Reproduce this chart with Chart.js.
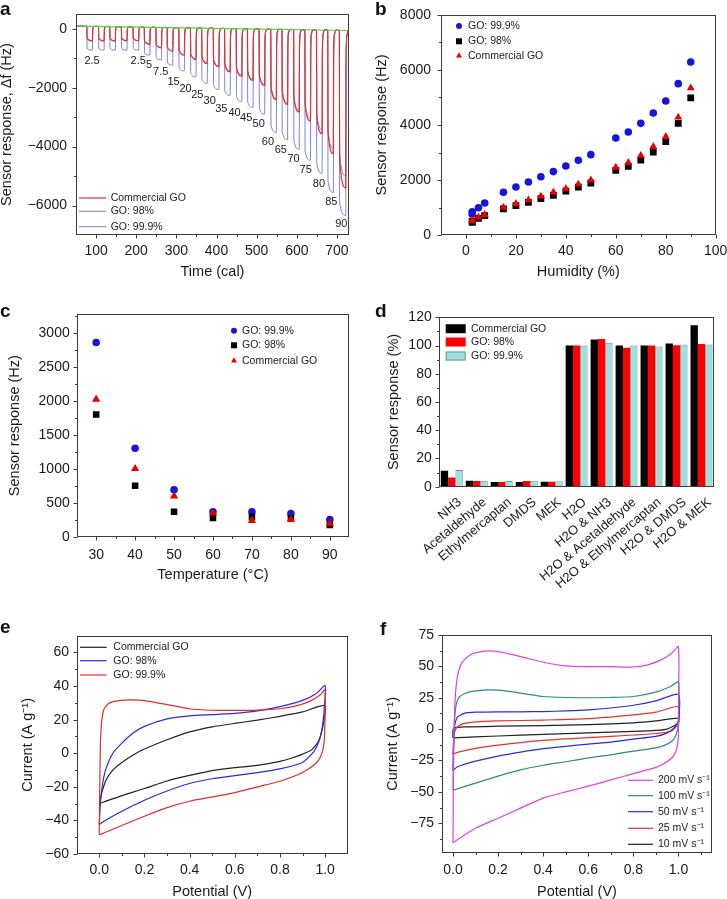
<!DOCTYPE html>
<html>
<head>
<meta charset="utf-8">
<script src="https://cdn.jsdelivr.net/npm/chart.js@4.4.1/dist/chart.umd.min.js"></script>
<style>
body { margin: 0; background: #fff; }
#wrap { position: relative; width: 727px; height: 899px; overflow: hidden; font-family: "Liberation Sans", Arial, sans-serif; }
canvas { position: absolute; }
.tag { position: absolute; font-weight: bold; font-size: 19px; line-height: 1; color: #111; }
</style>
</head>
<body>
<div id="wrap">
  <canvas id="ca" width="360" height="300" style="left:0;top:0"></canvas>
  <canvas id="cb" width="367" height="300" style="left:360px;top:0"></canvas>
  <canvas id="cc" width="360" height="300" style="left:0;top:300px"></canvas>
  <canvas id="cd" width="367" height="310" style="left:360px;top:300px"></canvas>
  <canvas id="ce" width="360" height="289" style="left:0;top:610px"></canvas>
  <canvas id="cf" width="367" height="289" style="left:360px;top:610px"></canvas>
  <div class="tag" style="left:0;top:-1px">a</div>
  <div class="tag" style="left:375px;top:-1px">b</div>
  <div class="tag" style="left:0;top:301px">c</div>
  <div class="tag" style="left:375px;top:301px">d</div>
  <div class="tag" style="left:0;top:617px">e</div>
  <div class="tag" style="left:380px;top:619px">f</div>
</div>
<script>
// ---- panel a: humidity pulses ----
const pulseOn  = [77, 106, 134, 163, 192, 220, 249, 277, 306, 335, 363, 392, 420, 449, 477, 506, 535, 563, 592, 620, 649, 677, 706];
const pulseOff = [91, 120, 148, 177, 206, 234, 263, 291, 320, 349, 377, 406, 434, 463, 491, 520, 549, 577, 606, 634, 663, 691, 722];
const pulseTop = [84, 78, 71, 65, 59, 52, 46, 40, 34, 27, 21, 15, 8, 2, -4, -11, -17, -23, -30, -36, -42, -48, -55];
const depthComm  = [-420, -420, -420, -415, -415, -530, -650, -770, -900, -1045, -1180, -1290, -1460, -1610, -1750, -1920, -2405, -2565, -2825, -3130, -3560, -4240, -5400];
const depthGO98  = [-400, -400, -400, -400, -400, -510, -625, -745, -870, -1010, -1140, -1250, -1420, -1560, -1700, -1870, -2350, -2500, -2750, -3030, -3420, -4060, -5000];
const depthGO999 = [-725, -725, -725, -725, -725, -895, -1055, -1240, -1430, -1635, -1850, -2065, -2260, -2465, -2670, -2900, -3520, -3770, -4090, -4465, -4910, -5560, -6340];
const baselineA = [{x: 50, y: 90}, {x: 730, y: -60}];
const aLabelText = ['2.5', '2.5', '5', '7.5', '15', '20', '25', '30', '35', '40', '45', '50', '60', '65', '70', '75', '80', '85', '90'];
const aLabelT = [90, 205, 232, 261, 293, 323, 352, 383, 412, 445, 474, 505, 528, 560, 592, 622, 655, 686, 711];
const aLabelV = [-1078, -1078, -1238, -1476, -1792, -2041, -2245, -2463, -2711, -2857, -3027, -3231, -3844, -4116, -4422, -4796, -5272, -5864, -6622];
const aTicksX = [100, 200, 300, 400, 500, 600, 700];
const aTicksY = [-6000, -4000, -2000, 0];

// ---- panel b: response vs humidity ----
const bHum    = [2.5, 2.5, 5, 7.5, 15, 20, 25, 30, 35, 40, 45, 50, 60, 65, 70, 75, 80, 85, 90];
const bGO999  = [850, 760, 1000, 1170, 1560, 1750, 1935, 2125, 2310, 2515, 2720, 2925, 3530, 3745, 4060, 4435, 4870, 5500, 6285];
const bGO98   = [500, 470, 615, 715, 955, 1075, 1195, 1330, 1450, 1605, 1750, 1895, 2355, 2500, 2730, 3020, 3395, 4060, 4980];
const bComm   = [560, 520, 655, 750, 1015, 1150, 1280, 1415, 1560, 1690, 1850, 2005, 2465, 2635, 2890, 3215, 3575, 4280, 5340];
const bTicksX = [0, 20, 40, 60, 80, 100];
const bTicksY = [0, 2000, 4000, 6000, 8000];

// ---- panel c: response vs temperature ----
const cTemp   = [30, 40, 50, 60, 70, 80, 90];
const cGO999  = [2862, 1308, 698, 374, 374, 349, 261];
const cGO98   = [1804, 757, 374, 285, 300, 280, 182];
const cComm   = [2026, 1008, 605, 354, 246, 261, 202];
const cTicksX = [30, 40, 50, 60, 70, 80, 90];
const cTicksY = [0, 500, 1000, 1500, 2000, 2500, 3000];

// ---- panel d: selectivity ----
const dCats  = ['NH3', 'Acetaldehyde', 'Ethylmercaptan', 'DMDS', 'MEK', 'H2O', 'H2O & NH3', 'H2O & Acetaldehyde', 'H2O & Ethylmercaptan', 'H2O & DMDS', 'H2O & MEK'];
const dComm  = [11.3, 4.2, 3.3, 3.3, 3.5, 100, 104.2, 100, 100, 101.5, 114.3];
const dGO98  = [6.6, 4.0, 3.3, 4.0, 3.5, 100, 104.6, 98.5, 100, 100.2, 101.1];
const dGO999 = [11.8, 4.2, 4.0, 4.2, 3.8, 100, 102, 100, 99.3, 100.7, 100.7];
const dTicksY = [0, 20, 40, 60, 80, 100, 120];

// ---- panel e: CV of the three GO samples, [potential, current] ----
const eComm = [[0,-30],[0.01,-24],[0.03,-16],[0.06,-10],[0.1,-5.5],[0.15,-1],[0.2,2.5],[0.3,8],[0.4,12.7],[0.5,15.7],[0.6,17.8],[0.7,19.7],[0.8,22],[0.9,24.6],[1.0,28.4],[0.99,16],[0.97,7],[0.94,2],[0.9,-0.5],[0.85,-3],[0.8,-4.8],[0.7,-7.2],[0.6,-8.6],[0.5,-10.3],[0.4,-13.2],[0.3,-16.5],[0.2,-21],[0.1,-25.2],[0.02,-29],[0,-30]];
const eGO98 = [[0,-42.5],[0.005,-30],[0.015,-18],[0.03,-9],[0.06,0],[0.1,6],[0.15,12],[0.2,16],[0.3,20.5],[0.4,22.3],[0.5,23],[0.6,23.7],[0.7,25.2],[0.8,27.8],[0.9,31.5],[0.96,35.5],[1.0,40.3],[0.998,30],[0.99,18],[0.975,8],[0.95,1],[0.9,-5.5],[0.8,-9.3],[0.7,-11.5],[0.6,-13.3],[0.5,-15.2],[0.4,-18],[0.3,-22.5],[0.2,-28],[0.1,-34.5],[0.02,-40.5],[0,-42.5]];
const eGO999 = [[0,-46],[0.002,-20],[0.005,5],[0.01,18],[0.02,26],[0.04,29.5],[0.08,31.2],[0.14,31.8],[0.2,31.3],[0.3,29],[0.4,26.5],[0.5,25.6],[0.6,25.5],[0.7,25.7],[0.8,26.5],[0.88,28.5],[0.94,31.5],[0.98,35],[1.0,38],[1.0,25],[0.998,12],[0.993,4],[0.98,-2],[0.96,-6],[0.9,-11.5],[0.8,-16.7],[0.7,-20],[0.6,-23.4],[0.5,-26],[0.4,-28.6],[0.3,-32.4],[0.2,-37.5],[0.1,-43],[0.02,-47.5],[0,-48.5],[0,-46]];
const eTicksX = [0, 0.2, 0.4, 0.6, 0.8, 1.0];
const eTicksY = [-60, -40, -20, 0, 20, 40, 60];

// ---- panel f: CV at several scan rates ----
const f200 = [[0,-90.5],[0.002,-40],[0.005,0],[0.01,25],[0.02,42],[0.04,53],[0.08,59.5],[0.15,62.3],[0.2,61.8],[0.3,57.8],[0.4,53.3],[0.5,50.4],[0.6,49.8],[0.7,49.8],[0.8,49.5],[0.86,51],[0.92,55],[0.97,60.5],[1.0,65.8],[1.0,20],[0.999,-8],[0.99,-17],[0.97,-23],[0.93,-28],[0.9,-30.5],[0.8,-35.5],[0.7,-40.5],[0.6,-45.5],[0.5,-50],[0.4,-55],[0.3,-63],[0.2,-71],[0.1,-79],[0.04,-85.7],[0,-90.5]];
const f100 = [[0,-48.8],[0.003,-10],[0.008,10],[0.015,20],[0.03,26],[0.07,29.5],[0.15,31.2],[0.2,31],[0.3,28.7],[0.4,26],[0.5,25.2],[0.6,25],[0.7,25.2],[0.8,26],[0.9,29.5],[0.96,33.5],[1.0,37.5],[1.0,8],[0.995,-1],[0.98,-8],[0.95,-12],[0.9,-15],[0.8,-17.5],[0.7,-20.5],[0.6,-23],[0.5,-26],[0.4,-28.8],[0.3,-32.5],[0.2,-37.5],[0.1,-43],[0,-48.8]];
const f50 = [[0,-33],[0.003,-10],[0.008,3],[0.02,9.5],[0.05,12.5],[0.1,13.5],[0.2,13.8],[0.3,13.8],[0.4,14],[0.5,14.5],[0.6,15.3],[0.7,16.8],[0.8,19],[0.9,22.5],[1.0,27.7],[1.0,7],[0.98,1],[0.95,-3],[0.9,-5.8],[0.8,-8],[0.7,-10.3],[0.6,-12],[0.5,-13.7],[0.4,-15.6],[0.3,-18.3],[0.2,-21.5],[0.1,-25.5],[0.02,-30],[0,-33]];
const f25 = [[0,-20],[0.005,-5],[0.015,1],[0.04,4],[0.1,5.7],[0.2,6.5],[0.4,7.2],[0.6,8.3],[0.8,11.3],[0.9,13.5],[1.0,17.9],[1.0,5],[0.97,-1.5],[0.9,-3.5],[0.8,-4.7],[0.6,-6.8],[0.4,-9],[0.2,-12.7],[0.1,-15.3],[0.02,-18.5],[0,-20]];
const f10 = [[0,-7],[0,-1],[0.005,1],[0.05,1.8],[0.2,2.3],[0.4,2.8],[0.6,3.6],[0.8,5],[0.9,6.5],[1.0,8.7],[1.0,5],[0.95,0],[0.9,-1],[0.8,-1.8],[0.6,-3],[0.4,-4.2],[0.2,-5.5],[0,-7]];
const fTicksX = [0, 0.2, 0.4, 0.6, 0.8, 1.0];
const fTicksY = [-75, -50, -25, 0, 25, 50, 75];

const FONT = '"Liberation Sans", Arial, Helvetica, sans-serif';
Chart.defaults.font.family = FONT;
Chart.defaults.color = '#1a1a1a';
Chart.defaults.animation = false;
Chart.defaults.events = [];
Chart.defaults.plugins.legend.display = false;
Chart.defaults.plugins.tooltip.enabled = false;

const minus = v => String(v).replace('-', '\u2212');
const oneDec = v => v.toFixed(1);

// fixed-size axis so that the plot box lands where the reference has it
function axis(o) {
  return {
    type: o.type || 'linear',
    min: o.min, max: o.max,
    grid: { display: false, drawTicks: false },
    border: { display: false },
    afterBuildTicks: o.ticks ? s => { s.ticks = o.ticks.map(v => ({ value: v })); } : undefined,
    afterFit: s => {
      if (o.h) s.height = o.size; else s.width = o.size;
      s.paddingLeft = s.paddingRight = s.paddingTop = s.paddingBottom = 0;
    },
    ticks: {
      padding: o.pad, font: { size: o.fs || 14 }, autoSkip: false,
      maxRotation: o.rot || 0, minRotation: o.rot || 0, labelOffset: o.lo || 0,
      callback: o.type === 'category' ? function (v) { return this.getLabelForValue(v); } : (o.fmt || minus)
    },
    title: { display: !!o.title, text: o.title, font: { size: 14.5, lineHeight: 1 }, padding: { top: o.tp || 0, bottom: o.tp || 0 }, color: '#1a1a1a' }
  };
}

// box around the plot, outward major and minor ticks
const frameTicks = {
  id: 'frameTicks',
  afterDraw(chart) {
    const { ctx, chartArea: a, scales } = chart;
    const L = Math.round(a.left) + 0.5, R = Math.round(a.right) - 0.5;
    const T = Math.round(a.top) + 0.5, B = Math.round(a.bottom) - 0.5;
    ctx.save();
    ctx.strokeStyle = '#3c3c3c';
    ctx.lineWidth = 1;
    ctx.strokeRect(L, T, R - L, B - T);
    ctx.beginPath();
    const draw = (sc, vals, len) => vals.forEach(v => {
      const p = Math.round(sc.getPixelForValue(v)) + 0.5;
      if (sc.isHorizontal()) { ctx.moveTo(p, B); ctx.lineTo(p, B + len); }
      else { ctx.moveTo(L, p); ctx.lineTo(L - len, p); }
    });
    ['x', 'y'].forEach(id => {
      const sc = scales[id];
      if (!sc || sc.type !== 'linear') return;
      const major = sc.ticks.map(t => t.value).sort((p, q) => p - q);
      draw(sc, major, 4);
      const step = major[1] - major[0];
      const minor = [];
      for (let v = major[0] - step / 2; v < sc.max - 1e-9; v += step) if (v > sc.min + 1e-9) minor.push(v);
      draw(sc, minor, 2.5);
    });
    ctx.stroke();
    ctx.restore();
  }
};

function marker(ctx, style, x, y, r, color) {
  ctx.fillStyle = color;
  ctx.beginPath();
  if (style === 'rect') ctx.rect(x - r, y - r, 2 * r, 2 * r);
  else if (style === 'triangle') { ctx.moveTo(x, y - r * 1.15); ctx.lineTo(x + r, y + r * 0.6); ctx.lineTo(x - r, y + r * 0.6); ctx.closePath(); }
  else ctx.arc(x, y, r, 0, Math.PI * 2);
  ctx.fill();
}

// legend drawn inside the plot
const insetLegend = {
  id: 'insetLegend',
  afterDraw(chart, args, o) {
    if (!o || !o.rows) return;
    const ctx = chart.ctx;
    ctx.save();
    ctx.font = '10.5px ' + FONT;
    ctx.textBaseline = 'middle';
    o.rows.forEach((di, i) => {
      const ds = chart.data.datasets[di];
      const y = o.ys[i];
      if (o.kind === 'line') {
        ctx.strokeStyle = ds.borderColor; ctx.lineWidth = ds.borderWidth;
        ctx.beginPath(); ctx.moveTo(o.x0, y); ctx.lineTo(o.x1, y); ctx.stroke();
      } else if (o.kind === 'box') {
        ctx.fillStyle = ds.backgroundColor;
        ctx.fillRect(o.x0, y - o.h / 2, o.x1 - o.x0, o.h);
        if (ds.borderWidth) {
          ctx.strokeStyle = ds.borderColor; ctx.lineWidth = 1;
          ctx.strokeRect(o.x0 + 0.5, y - o.h / 2 + 0.5, o.x1 - o.x0 - 1, o.h - 1);
        }
      } else {
        marker(ctx, ds.pointStyle, o.x0, y, o.r, ds.backgroundColor);
      }
      ctx.fillStyle = '#1a1a1a';
      ctx.fillText(ds.label, o.tx, y);
    });
    ctx.restore();
  }
};

// humidity numbers under the pulses in panel a
const pulseLabels = {
  id: 'pulseLabels',
  afterDatasetsDraw(chart) {
    const { ctx, scales: { x, y } } = chart;
    ctx.save();
    ctx.font = '11px ' + FONT;
    ctx.textAlign = 'center';
    ctx.textBaseline = 'middle';
    ctx.fillStyle = '#1a1a1a';
    aLabelText.forEach((t, i) => ctx.fillText(t, x.getPixelForValue(aLabelT[i]), y.getPixelForValue(aLabelV[i])));
    ctx.restore();
  }
};

function pulseTrain(depth, fast) {
  const pts = [{ x: 50, y: baselineA[0].y }];
  for (let i = 0; i < pulseOn.length; i++) {
    const top = pulseTop[i], d = depth[i], on = pulseOn[i], off = pulseOff[i];
    pts.push({ x: on, y: top });
    pts.push({ x: on + 0.7, y: top + fast * (d - top) });
    pts.push({ x: off, y: d });
    pts.push({ x: off + 0.7, y: top + 0.2 * (d - top) });
    pts.push({ x: off + 3, y: top + 0.03 * (d - top) });
    pts.push({ x: off + 6, y: top });
  }
  return pts;
}

const xy = arr => arr.map(p => ({ x: p[0], y: p[1] }));
const zip = (xs, ys) => xs.map((v, i) => ({ x: v, y: ys[i] }));

function lineSet(label, data, color, order, width) {
  return { label, data, borderColor: color, backgroundColor: color, borderWidth: width || 1.2, pointRadius: 0, showLine: true, tension: 0.2, order };
}

// a
new Chart(document.getElementById('ca'), {
  type: 'scatter',
  data: { datasets: [
    Object.assign(lineSet('Commercial GO', pulseTrain(depthComm, 0.82), '#e8302e', 1, 1.2), { cubicInterpolationMode: 'monotone' }),
    Object.assign(lineSet('GO: 98%', pulseTrain(depthGO98, 0.84), '#8a8a8a', 2, 1), { cubicInterpolationMode: 'monotone' }),
    Object.assign(lineSet('GO: 99.9%', pulseTrain(depthGO999, 0.93), '#7c7ce6', 3, 1), { cubicInterpolationMode: 'monotone' }),
    lineSet('baseline', baselineA, '#4cd24c', 0, 1.2)
  ] },
  options: {
    responsive: false,
    layout: { padding: { top: 14, right: 11, left: 0, bottom: 0 } },
    scales: {
      x: axis({ min: 50, max: 730, ticks: aTicksX, h: true, size: 65, pad: 7.3, title: 'Time (cal)', tp: 21 }),
      y: axis({ min: -7000, max: 500, ticks: aTicksY, size: 76, pad: 9, title: 'Sensor response, \u0394f (Hz)', tp: 0 })
    },
    plugins: { insetLegend: { kind: 'line', rows: [0, 1, 2], ys: [198, 211.3, 226.7], x0: 79, x1: 106, tx: 110.7 } }
  },
  plugins: [frameTicks, insetLegend, pulseLabels]
});

function pointSet(label, data, color, style, r, order) {
  return { label, data, backgroundColor: color, borderColor: color, borderWidth: 0, pointStyle: style, pointRadius: r, order };
}

// b
new Chart(document.getElementById('cb'), {
  type: 'scatter',
  data: { datasets: [
    pointSet('GO: 99.9%', zip(bHum, bGO999), '#1515e0', 'circle', 3.8, 2),
    pointSet('GO: 98%', zip(bHum, bGO98), '#000000', 'rect', 4.8, 1),
    pointSet('Commercial GO', zip(bHum, bComm), '#e80000', 'triangle', 4.6, 0)
  ] },
  options: {
    responsive: false,
    layout: { padding: { top: 14.7, right: 11.3, left: 0, bottom: 0 } },
    scales: {
      x: axis({ min: -10, max: 100, ticks: bTicksX, h: true, size: 64.7, pad: 7.3, title: 'Humidity (%)', tp: 21 }),
      y: axis({ min: 0, max: 8000, ticks: bTicksY, size: 81, pad: 10, title: 'Sensor response (Hz)', tp: 14.4 })
    },
    plugins: { insetLegend: { kind: 'point', rows: [0, 1, 2], ys: [26, 41.3, 55.7], x0: 99, tx: 108, r: 3 } }
  },
  plugins: [frameTicks, insetLegend]
});

// c
new Chart(document.getElementById('cc'), {
  type: 'scatter',
  data: { datasets: [
    pointSet('GO: 99.9%', zip(cTemp, cGO999), '#1515e0', 'circle', 3.8, 2),
    pointSet('GO: 98%', zip(cTemp, cGO98), '#000000', 'rect', 4.6, 1),
    pointSet('Commercial GO', zip(cTemp, cComm), '#e80000', 'triangle', 4.8, 0)
  ] },
  options: {
    responsive: false,
    layout: { padding: { top: 14, right: 10.7, left: 0, bottom: 0 } },
    scales: {
      x: axis({ min: 25, max: 95, ticks: cTicksX, h: true, size: 62.7, pad: 9.3, title: 'Temperature (\u00b0C)', tp: 17.75 }),
      y: axis({ min: 0, max: 3280, ticks: cTicksY, size: 76.7, pad: 7, title: 'Sensor response (Hz)', tp: 7.75 })
    },
    plugins: { insetLegend: { kind: 'point', rows: [0, 1, 2], ys: [30.7, 45.3, 60.7], x0: 234, tx: 242, r: 3 } }
  },
  plugins: [frameTicks, insetLegend]
});

// d
new Chart(document.getElementById('cd'), {
  type: 'bar',
  data: { labels: dCats, datasets: [
    { label: 'Commercial GO', data: dComm, backgroundColor: '#000000', borderWidth: 0, barPercentage: 1, categoryPercentage: 0.88 },
    { label: 'GO: 98%', data: dGO98, backgroundColor: '#ff0000', borderWidth: 0, barPercentage: 1, categoryPercentage: 0.88 },
    { label: 'GO: 99.9%', data: dGO999, backgroundColor: '#9fe0de', borderColor: '#5f9d9a', borderWidth: 1, barPercentage: 1, categoryPercentage: 0.88 }
  ] },
  options: {
    responsive: false,
    layout: { padding: { top: 17.3, right: 13, left: 0, bottom: 0 } },
    scales: {
      x: axis({ type: 'category', h: true, size: 123.3, pad: 8, fs: 13, rot: 40, lo: 8 }),
      y: axis({ min: 0, max: 120, ticks: dTicksY, size: 79.3, pad: 7.6, title: 'Sensor response (%)', tp: 26.5 })
    },
    plugins: { insetLegend: { kind: 'box', rows: [0, 1, 2], ys: [28.7, 42, 56], x0: 85.7, x1: 105.7, h: 9, tx: 111 } }
  },
  plugins: [frameTicks, insetLegend]
});

// e
new Chart(document.getElementById('ce'), {
  type: 'scatter',
  data: { datasets: [
    lineSet('Commercial GO', xy(eComm), '#222222', 2),
    lineSet('GO: 98%', xy(eGO98), '#2b2bdc', 1),
    lineSet('GO: 99.9%', xy(eGO999), '#e82a2a', 0)
  ] },
  options: {
    responsive: false,
    layout: { padding: { top: 25.7, right: 12.3, left: 0, bottom: 0 } },
    scales: {
      x: axis({ min: -0.1, max: 1.1, ticks: eTicksX, h: true, size: 45, pad: 7.6, fmt: oneDec, title: 'Potential (V)', tp: 0 }),
      y: axis({ min: -60, max: 70, ticks: eTicksY, size: 76.7, pad: 7.7, title: 'Current (A g\u207b\u00b9)', tp: 21 })
    },
    plugins: { insetLegend: { kind: 'line', rows: [0, 1, 2], ys: [37.3, 50.7, 65], x0: 80, x1: 106.7, tx: 113.3 } }
  },
  plugins: [frameTicks, insetLegend]
});

// f
new Chart(document.getElementById('cf'), {
  type: 'scatter',
  data: { datasets: [
    lineSet('200 mV s\u207b\u00b9', xy(f200), '#e040e6', 0),
    lineSet('100 mV s\u207b\u00b9', xy(f100), '#2e8b84', 1),
    lineSet('50 mV s\u207b\u00b9', xy(f50), '#2b2bdc', 2),
    lineSet('25 mV s\u207b\u00b9', xy(f25), '#e8302e', 3),
    lineSet('10 mV s\u207b\u00b9', xy(f10), '#222222', 4)
  ] },
  options: {
    responsive: false,
    layout: { padding: { top: 25, right: 14.7, left: 0, bottom: 0 } },
    scales: {
      x: axis({ min: -0.05, max: 1.15, ticks: fTicksX, h: true, size: 46.3, pad: 9, fmt: oneDec, title: 'Potential (V)', tp: 0 }),
      y: axis({ min: -98.5, max: 75, ticks: fTicksY, size: 81.7, pad: 7.7, title: 'Current (A g\u207b\u00b9)', tp: 26 })
    },
    plugins: { insetLegend: { kind: 'line', rows: [0, 1, 2, 3, 4], ys: [170.3, 185.7, 201.7, 218.3, 234.3], x0: 268, x1: 293, tx: 298 } }
  },
  plugins: [frameTicks, insetLegend]
});
</script>
</body>
</html>
